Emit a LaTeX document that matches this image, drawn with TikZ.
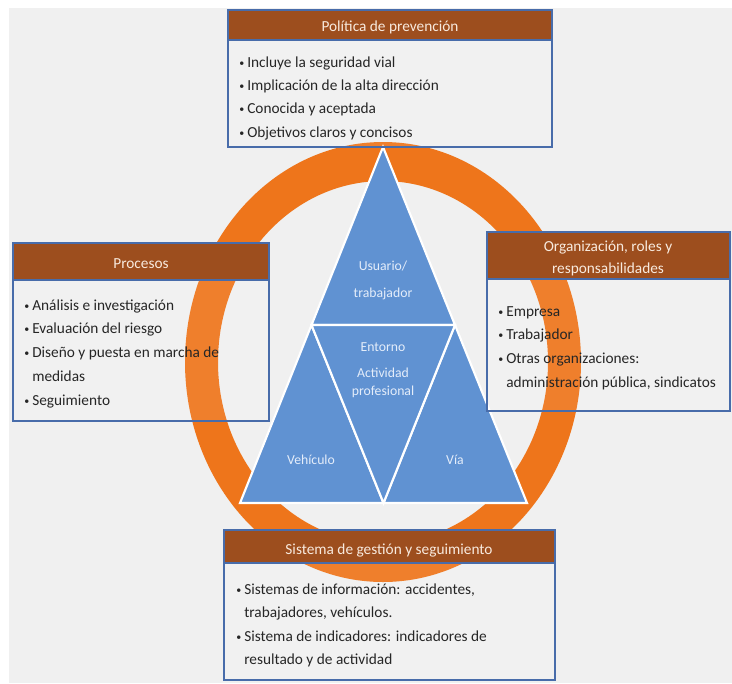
\documentclass[tikz,border=0pt]{standalone}
\usepackage{fontspec}
\setmainfont{Carlito}
\usetikzlibrary{fit}

\definecolor{bggray}{RGB}{240,240,240}
\definecolor{ringorange}{RGB}{238,117,27}
\definecolor{triblue}{RGB}{96,146,210}
\definecolor{boxblue}{RGB}{72,108,170}
\definecolor{headbrown}{RGB}{157,78,30}
\definecolor{headtext}{RGB}{248,234,222}
\definecolor{tritext}{RGB}{228,237,250}
\definecolor{bodytext}{RGB}{38,38,38}

\newcommand{\bul}{\makebox[6pt][l]{\raisebox{0.6pt}{\fontsize{7.5}{7.5}\selectfont\textbullet}}}

\begin{document}
\begin{tikzpicture}[x=0.75pt,y=-0.75pt,
  frame/.style={draw=boxblue, line width=2.2pt, fill=white, fill opacity=0.08, inner sep=0pt},
  head/.style={draw=boxblue, line width=2.2pt, fill=headbrown, inner sep=0pt},
  headlabel/.style={anchor=base, inner sep=0pt, text=headtext, font=\fontsize{11.5}{16.5}\selectfont},
  item/.style={anchor=base west, inner sep=0pt, text=bodytext, font=\fontsize{11.5}{14}\selectfont},
  tri/.style={fill=triblue, draw=white, line width=1.6pt, line join=miter},
  trilabel/.style={anchor=base, inner sep=0pt, text=tritext, font=\fontsize{10.3}{12}\selectfont}]

\useasboundingbox (0,0) rectangle (732,683);
\fill[bggray] (9,8) rectangle (732,683);

% ring
\fill[ringorange, even odd rule] (383,362) ellipse [x radius=198, y radius=220]
  (383,362) ellipse [x radius=165, y radius=181];

% triangle
\coordinate (A) at (383,147);
\coordinate (L) at (240,503);
\coordinate (R) at (527,503);
\coordinate (ML) at (311.5,325);
\coordinate (MR) at (455,325);
\coordinate (MB) at (383.5,503);
\draw[tri] (A) -- (ML) -- (MR) -- cycle;
\draw[tri] (ML) -- (L) -- (MB) -- cycle;
\draw[tri] (MR) -- (MB) -- (R) -- cycle;
\draw[tri] (ML) -- (MR) -- (MB) -- cycle;
\node[trilabel] (usu1) at (383,270) {Usuario/};
\node[trilabel] (usu2) at (383,297) {trabajador};
\node[trilabel] (ent1) at (383,351) {Entorno};
\node[trilabel] (ent2) at (383,377) {Actividad};
\node[trilabel] (ent3) at (383,395) {profesional};
\node[trilabel] (veh) at (311,464) {Vehículo};
\node[trilabel] (via) at (455,464) {Vía};

% Politica de prevencion
\node[frame, fit={(228,10)(552,147)}] (pol) {};
\node[head, fit={(228,10)(552,40)}] (polhead) {};
\node[headlabel] (poltitle) at (390,31) {Política de prevención};
\node[item] (pol1) at (239,67) {\bul Incluye la seguridad vial};
\node[item] (pol2) at (239,90) {\bul Implicación de la alta dirección};
\node[item] (pol3) at (239,113) {\bul Conocida y aceptada};
\node[item] (pol4) at (239,137) {\bul Objetivos claros y concisos};

% Procesos
\node[frame, fit={(13,243)(269,421)}] (pro) {};
\node[head, fit={(13,243)(269,280)}] (prohead) {};
\node[headlabel] (protitle) at (141,268) {Procesos};
\node[item] (pro1) at (24,310) {\bul Análisis e investigación};
\node[item] (pro2) at (24,333) {\bul Evaluación del riesgo};
\node[item] (pro3) at (24,357) {\bul Diseño y puesta en marcha de};
\node[item] (pro4) at (32,381) {medidas};
\node[item] (pro5) at (24,405) {\bul Seguimiento};

% Organizacion, roles y responsabilidades
\node[frame, fit={(487,232)(730,411)}] (org) {};
\node[head, fit={(487,232)(730,279)}] (orghead) {};
\node[headlabel] (orgtitle1) at (608,251) {Organización, roles y};
\node[headlabel] (orgtitle2) at (608,273) {responsabilidades};
\node[item] (org1) at (498,316) {\bul Empresa};
\node[item] (org2) at (498,339) {\bul Trabajador};
\node[item] (org3) at (498,363) {\bul Otras organizaciones:};
\node[item] (org4) at (506,387) {administración pública, sindicatos};

% Sistema de gestion y seguimiento
\node[frame, fit={(224,530)(555,680)}] (sis) {};
\node[head, fit={(224,530)(555,563)}] (sishead) {};
\node[headlabel] (sistitle) at (389,554) {Sistema de gestión y seguimiento};
\node[item] (sis1) at (236,594) {\bul Sistemas de información: accidentes,};
\node[item] (sis2) at (244,617) {trabajadores, vehículos.};
\node[item] (sis3) at (236,641) {\bul Sistema de indicadores: indicadores de};
\node[item] (sis4) at (244,664) {resultado y de actividad};
\end{tikzpicture}
\end{document}
